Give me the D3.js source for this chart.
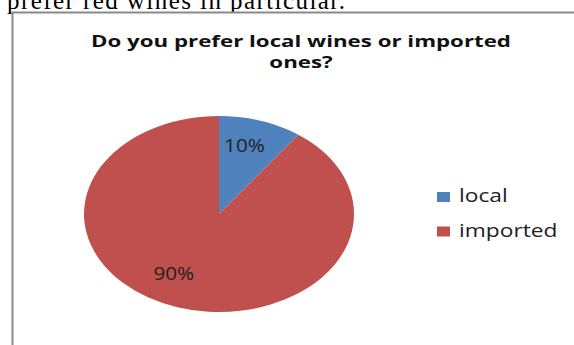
<!DOCTYPE html>
<html>
<head>
<meta charset="utf-8">
<script src="https://cdn.jsdelivr.net/npm/d3@7"></script>
<style>
  body { margin: 0; background: #fff; }
  svg { display: block; }
</style>
</head>
<body>
<div id="chart"></div>
<script>
const categories = ["local", "imported"];
const values = [10, 90];
const labels = ["10%", "90%"];
const colors = ["#4F81BD", "#C0504D"];
const titleLines = ["Do you prefer local wines or imported", "ones?"];

const width = 574, height = 345;
const svg = d3.select("#chart").append("svg")
    .attr("width", width)
    .attr("height", height);

// the chart was pasted into a document stretched sideways,
// so text gets widened to what the original shows
function stretch(sel, k) {
    sel.each(function() {
        const w = this.getComputedTextLength();
        d3.select(this)
            .attr("textLength", w * k)
            .attr("lengthAdjust", "spacingAndGlyphs");
    });
}

// bit of document text above the chart box
svg.append("text")
    .attr("x", 7)
    .attr("y", 9)
    .style("font-family", "'Liberation Serif', serif")
    .style("font-size", "25px")
    .attr("textLength", 338)
    .text("prefer red wines in particular.");

svg.append("rect")
    .attr("x", 12.5).attr("y", 12.5)
    .attr("width", 700).attr("height", 500)
    .style("fill", "#fff")
    .style("stroke", "#8a8a8a")
    .style("stroke-width", 2);

const title = svg.append("text")
    .attr("text-anchor", "middle")
    .style("font-family", "'Open Sans', sans-serif")
    .style("font-weight", "bold")
    .style("font-size", "16.5px")
    .style("fill", "#111");
title.selectAll("tspan")
    .data(titleLines)
    .enter().append("tspan")
    .attr("x", 301)
    .attr("y", (d, i) => 47 + i * 21)
    .text(d => d)
    .call(stretch, 1.35);

// pie is stretched horizontally like the original
const cx = 219, cy = 214, r = 98, sx = 135 / 98;
const pie = d3.pie().sort(null).value(d => d)(values);
const arc = d3.arc().innerRadius(0).outerRadius(r);

const g = svg.append("g")
    .attr("transform", `translate(${cx},${cy}) scale(${sx},1)`);

g.selectAll("path")
    .data(pie)
    .enter().append("path")
    .attr("d", arc)
    .style("fill", (d, i) => colors[i]);

// label radius / angle nudge per slice, as laid out in the original
const labelR = [0.73, 0.69];
const labelShift = [-3, 11].map(a => a * Math.PI / 180);
function labelPos(d, i) {
    const a = (d.startAngle + d.endAngle) / 2 + labelShift[i];
    const rr = r * labelR[i];
    return [cx + Math.sin(a) * rr * sx, cy - Math.cos(a) * rr];
}
svg.selectAll(".slice-label")
    .data(pie)
    .enter().append("text")
    .attr("class", "slice-label")
    .attr("x", (d, i) => labelPos(d, i)[0])
    .attr("y", (d, i) => labelPos(d, i)[1] + 7)
    .attr("text-anchor", "middle")
    .style("font-family", "'Open Sans', sans-serif")
    .style("font-size", "18px")
    .style("fill", "#222")
    .text((d, i) => labels[i])
    .call(stretch, 1.15);

const legendItems = svg.selectAll(".legend-item")
    .data(categories)
    .enter().append("g")
    .attr("class", "legend-item")
    .attr("transform", (d, i) => `translate(437,${192 + i * 34.5})`);

legendItems.append("rect")
    .attr("width", 13)
    .attr("height", 10)
    .style("fill", (d, i) => colors[i]);

legendItems.append("text")
    .attr("x", 22)
    .attr("y", 10)
    .style("font-family", "'Open Sans', sans-serif")
    .style("font-size", "17.5px")
    .style("fill", "#222")
    .text(d => d)
    .call(stretch, 1.3);
</script>
</body>
</html>
